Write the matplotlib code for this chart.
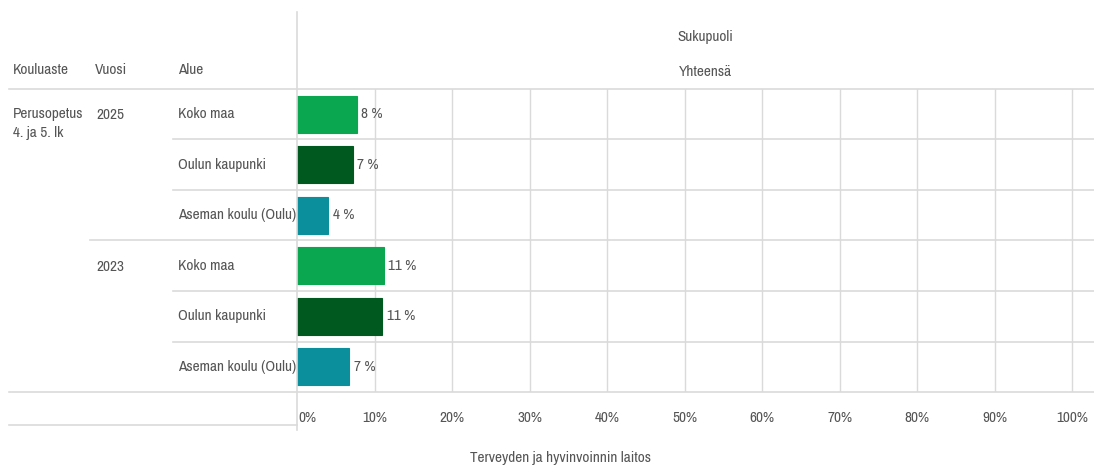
import matplotlib
matplotlib.use("Agg")
import matplotlib.pyplot as plt
from matplotlib.lines import Line2D
from matplotlib import font_manager

# ---- data ----
kouluaste = "Perusopetus\n4. ja 5. lk"
years = ["2025", "2023"]
areas = ["Koko maa", "Oulun kaupunki", "Aseman koulu (Oulu)"]
values_2025 = [7.7, 7.2, 4.0]
values_2023 = [11.2, 11.0, 6.7]
labels_2025 = ["8 %", "7 %", "4 %"]
labels_2023 = ["11 %", "11 %", "7 %"]
colors = ["#0aa650", "#005a20", "#0b8f9d"]
ticks = [0, 10, 20, 30, 40, 50, 60, 70, 80, 90, 100]
tick_labels = [f"{t}%" for t in ticks]

# ---- font ----
names = {f.name for f in font_manager.fontManager.ttflist}
fam = "DejaVu Sans"
for cand in ["Liberation Sans Narrow", "Archivo Narrow", "PT Sans Narrow"]:
    if cand in names:
        fam = cand
        break
plt.rcParams["font.family"] = [fam, "DejaVu Sans"]
TXT = "#555555"
LINE = "#dadada"

W, H = 1094, 469
fig = plt.figure(figsize=(W / 100, H / 100), dpi=100)

# choose font size so that the longest area label is ~118 px wide, as in the reference
renderer = fig.canvas.get_renderer()
probe = fig.text(0, 0, "Aseman koulu (Oulu)", fontsize=10)
w10 = probe.get_window_extent(renderer).width
probe.remove()
FS = min(14.0, 10 * 118.0 / w10)

def fx(px):
    return px / W

def fy(py):
    return 1 - py / H

# bar axes: 0% at 297 px, 100% at 1072 px, extending to right edge
x0, x100, xr = 297, 1072, 1094
top, bot = 89, 392
ax = fig.add_axes([fx(x0), fy(bot), fx(xr - x0), fy(top) - fy(bot)])
xmax = 100 * (xr - x0) / (x100 - x0)
ax.set_xlim(0, xmax)
ax.set_ylim(6, 0)
for s in ax.spines.values():
    s.set_visible(False)
ax.set_xticks([])
ax.set_yticks([])
for t in ticks[1:]:
    ax.axvline(t, color=LINE, lw=1, zorder=0)

vals = values_2025 + values_2023
labs = labels_2025 + labels_2023
cols = colors * 2
ypos = list(range(6))
ax.barh([y + 0.5 for y in ypos], vals, height=0.73, color=cols,
        edgecolor=cols, linewidth=0.8, zorder=2)
for y, v, l in zip(ypos, vals, labs):
    ax.text(v + 0.6, y + 0.5, l, va="center", ha="left", color=TXT, fontsize=FS)

# tick labels
for t, l in zip(ticks, tick_labels):
    xp = x0 + t * (x100 - x0) / 100
    fig.text(fx(xp + (1 if t == 0 else 0)), fy(418), l, ha="left" if t == 0 else "center",
             va="center", color=TXT, fontsize=FS)

# table lines
def hline(y, xa, xb):
    fig.add_artist(Line2D([fx(xa), fx(xb)], [fy(y), fy(y)], color=LINE, lw=1.2))

def vline(x, ya, yb):
    fig.add_artist(Line2D([fx(x), fx(x)], [fy(ya), fy(yb)], color=LINE, lw=1.2))

hline(89, 9, W)
row_h = (bot - top) / 6
for i in range(1, 6):
    y = top + i * row_h
    hline(y, 90 if i == 3 else 173, W)
hline(392, 9, W)
hline(425, 9, x0)
vline(x0, 12, 430)

# header texts
fig.text(fx(13), fy(70), "Kouluaste", ha="left", va="center", color=TXT, fontsize=FS)
fig.text(fx(95), fy(70), "Vuosi", ha="left", va="center", color=TXT, fontsize=FS)
fig.text(fx(178), fy(70), "Alue", ha="left", va="center", color=TXT, fontsize=FS)
fig.text(fx(705), fy(37), "Sukupuoli", ha="center", va="center", color=TXT, fontsize=FS)
fig.text(fx(705), fy(72), "Yhteensä", ha="center", va="center", color=TXT, fontsize=FS)

fig.text(fx(13), fy(107), kouluaste, ha="left", va="top", color=TXT, fontsize=FS,
         linespacing=1.45)
fig.text(fx(96), fy(115), years[0], ha="left", va="center", color=TXT, fontsize=FS)
fig.text(fx(96), fy(115 + 3 * row_h), years[1], ha="left", va="center", color=TXT, fontsize=FS)
for k in range(6):
    fig.text(fx(178), fy(top + (k + 0.5) * row_h), areas[k % 3], ha="left", va="center",
             color=TXT, fontsize=FS)

fig.text(fx(560), fy(458), "Terveyden ja hyvinvoinnin laitos", ha="center", va="center",
         color=TXT, fontsize=FS)

fig.savefig("out.png", dpi=100, facecolor="white")
